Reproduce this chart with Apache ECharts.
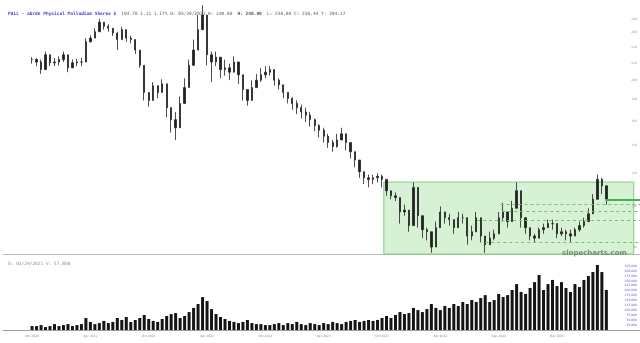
<!DOCTYPE html>
<html>
<head>
<meta charset="utf-8">
<script src="https://cdn.jsdelivr.net/npm/echarts@6/dist/echarts.min.js"></script>
<style>
html,body{margin:0;padding:0;background:#fff;}
#chart{width:640px;height:343px;}
</style>
</head>
<body>
<div id="chart"></div>
<script>
// ---------- data ----------
const startDate = '2020-10-05';   // first bar
const stepDays = 14;              // one bar every two weeks
const leadEmpty = 6;              // empty slots before the first bar
const trailEmpty = 7;             // empty slots after the last bar
const labelEvery = 13;            // x label every 13 bars (~6 months)

const closes = [224,221,212,230,220,221,224,230,214,220,
  221,221,247,252,261,275,269,266,259,250,
  264,252,250,236,217,187,179,194,187,196,
  172,161,154,176,192,217,236,264,286,230,
  221,227,212,214,209,221,206,190,179,192,
  200,206,209,212,200,195,187,181,176,172,
  168,165,161,156,152,147,142,139,144,149,
  142,135,129,121,117,116,117,118,116,109,
  106,105,97,98,90,111,95,88,87,80,
  89,97,94,93,89,94,94,85,87,94,
  85,81,84,86,94,97,92,99,109,94,
  89,85,84,88,89,91,91,86,87,86,
  85,88,90,92,96,104,116,112,104];

const highs = [227,226,224,234,226,226,228,234,221,224,
  225,226,252,256,266,280,275,272,266,261,
  268,259,255,250,228,202,187,198,192,201,
  179,170,168,183,202,224,250,286,302,256,
  234,234,219,224,219,228,216,200,187,200,
  207,214,216,216,209,202,195,187,182,179,
  175,172,168,162,157,154,149,144,149,154,
  149,140,135,126,121,119,119,120,119,113,
  109,108,104,101,94,114,101,90,89,84,
  92,100,97,96,92,97,96,89,90,97,
  89,84,87,88,97,102,94,103,114,100,
  91,88,86,89,91,93,93,88,89,88,
  88,89,92,94,99,107,119,117,106];

const lows = [219,216,207,221,216,216,217,221,209,214,
  216,216,234,246,255,266,264,261,255,236,
  255,247,245,231,214,179,173,187,181,190,
  163,150,144,168,183,202,221,243,264,217,
  198,216,202,205,200,209,196,179,174,183,
  192,198,202,205,194,190,181,176,170,166,
  162,159,155,151,146,142,138,135,138,144,
  136,130,124,117,113,111,113,114,111,106,
  104,103,91,95,87,101,89,84,83,77.5,
  85,93,91,90,86,92,91,81,83,91,
  82,77.5,82,83,90,92,89,96,101,89,
  86,83,82,86,86,89,88,84,85,83,
  82,85,87,89,94,100,109,107,101];

const volumes = [20000,20000,25000,15000,20000,30000,20000,25000,30000,20000,
  25000,30000,61000,41000,30000,35000,46000,35000,41000,61000,
  51000,66000,41000,51000,61000,76000,56000,46000,41000,56000,
  71000,81000,86000,61000,71000,91000,112000,132000,167000,147000,
  106000,81000,66000,56000,46000,41000,35000,41000,51000,35000,
  30000,30000,25000,25000,30000,35000,25000,35000,30000,41000,
  30000,25000,35000,30000,25000,35000,30000,41000,35000,30000,
  41000,46000,51000,41000,46000,51000,46000,51000,61000,71000,
  61000,76000,91000,81000,86000,112000,101000,91000,106000,132000,
  112000,101000,122000,112000,132000,122000,142000,132000,152000,142000,
  162000,177000,142000,152000,183000,167000,177000,203000,233000,193000,
  183000,213000,243000,279000,203000,233000,254000,223000,243000,213000,
  193000,233000,218000,254000,274000,294000,330000,294000,203000];

const priceTicks = [80,100,120,140,160,180,200,220,240,260,280];
const volumeTicks = [25000,50000,75000,100000,125000,150000,175000,200000,225000,250000,275000,300000,325000];
const priceMin = 77, priceMax = 297.3, volumeMax = 345000;

// green consolidation box and levels (bar index, price)
const boxStartBar = 78.4, boxEndBar = 134.1, boxTop = 114.3;
const dashedLevels = [101.3, 97.5, 92.8, 82.2];
const dashedStartBars = [104.4, 104.8, 99.2, 101.0];
const supportLevel = 104, supportStartBar = 127.8;

const headerName = 'PALL - abrdn Physical Palladium Shares E';
const headerInfo = '194.76 1.11 1.17% D: 03/29/2021 O: 240.89';
const headerHigh = 'H: 240.89';
const headerRest = 'L: 236.00 C: 236.44 T: 294.17';
const volumeInfo = 'D: 03/29/2021 V: 57,858';
const watermark = 'slopecharts.com';

// ---------- build ----------
const months = ['Jan','Feb','Mar','Apr','May','Jun','Jul','Aug','Sep','Oct','Nov','Dec'];
const total = leadEmpty + closes.length + trailEmpty;
const t0 = Date.parse(startDate + 'T00:00:00Z');
const categories = [];
for (let i = 0; i < total; i++) {
  const d = new Date(t0 + (i - leadEmpty) * stepDays * 86400000);
  categories.push(d.toISOString().slice(0, 10));
}
const pad = (arr) => Array(leadEmpty).fill('-').concat(arr, Array(trailEmpty).fill('-'));
const candles = closes.map((c, i) => {
  const o = i > 0 ? closes[i - 1] : c;
  return [o, c, Math.min(lows[i], o, c), Math.max(highs[i], o, c)];
});
const gridEnd = total - 0.5;
const A = (bar) => bar + leadEmpty;

const chart = echarts.init(document.getElementById('chart'), null, {renderer: 'canvas'});
const mono = 'DejaVu Sans Mono, monospace';

chart.setOption({
  animation: false,
  backgroundColor: '#ffffff',
  title: [
    {
      left: 3, top: 0,
      text: '{a|' + headerName + '} {b|' + headerInfo + '} {c|' + headerHigh + '} {b|' + headerRest + '}',
      textStyle: {
        rich: {
          a: {fontFamily: mono, fontSize: 4.5, color: '#3d3dd6'},
          b: {fontFamily: mono, fontSize: 4.5, color: '#8a8a8a'},
          c: {fontFamily: mono, fontSize: 4.5, color: '#555', fontWeight: 'bold'}
        }
      }
    },
    {
      left: 3, top: 256, text: volumeInfo,
      textStyle: {fontFamily: mono, fontSize: 4.5, color: '#8a8a8a', fontWeight: 'normal'}
    },
    {
      left: 557, top: 245, text: watermark,
      textStyle: {fontFamily: 'DejaVu Sans, sans-serif', fontSize: 7, fontWeight: 'bold', color: 'rgba(95,120,95,0.8)'}
    }
  ],
  grid: [
    {left: 2.9, right: 0, top: 8, height: 246},
    {left: 2.9, right: 0, top: 262, height: 68}
  ],
  xAxis: [
    {type: 'category', gridIndex: 0, data: categories, boundaryGap: true,
     axisLine: {lineStyle: {color: '#bdbdbd', width: 1}}, axisTick: {show: false}, axisLabel: {show: false}},
    {type: 'category', gridIndex: 1, data: categories, boundaryGap: true,
     axisLine: {lineStyle: {color: '#9e9e9e', width: 1}}, axisTick: {show: false},
     axisLabel: {
       fontSize: 3, color: '#8a8a8a', margin: 5, fontFamily: 'DejaVu Sans, sans-serif',
       interval: (idx) => { const k = idx - leadEmpty; return k >= 0 && k < closes.length && k % labelEvery === 0; },
       formatter: (v) => months[parseInt(v.slice(5, 7), 10) - 1] + ' ' + v.slice(0, 4)
     }},
    {type: 'value', gridIndex: 0, min: -0.5, max: gridEnd, show: false}
  ],
  yAxis: [
    {type: 'log', gridIndex: 0, position: 'right', min: priceMin, max: priceMax,
     axisLine: {show: false}, axisTick: {show: false}, splitLine: {show: false},
     axisLabel: {inside: true, margin: 3, fontSize: 3, color: '#9a9a9a', customValues: priceTicks,
                 fontFamily: 'DejaVu Sans, sans-serif'}},
    {type: 'value', gridIndex: 1, position: 'right', min: 0, max: volumeMax,
     axisLine: {show: false}, axisTick: {show: false}, splitLine: {show: false},
     axisLabel: {inside: true, margin: 3, fontSize: 3, color: '#5a5acc', customValues: volumeTicks,
                 fontFamily: 'DejaVu Sans, sans-serif',
                 formatter: (v) => v.toLocaleString('en-US')}}
  ],
  series: [
    {
      name: 'levels', type: 'line', xAxisIndex: 2, yAxisIndex: 0, data: [], z: 1, silent: true,
      markArea: {
        silent: true,
        itemStyle: {color: 'rgba(120,210,110,0.30)', borderColor: '#86c983', borderWidth: 1},
        data: [[{coord: [A(boxStartBar), boxTop]}, {coord: [A(boxEndBar), priceMin]}]]
      },
      markLine: {
        silent: true, symbol: ['none', 'none'], label: {show: false},
        data: dashedLevels.map((lv, j) => [
          {coord: [A(dashedStartBars[j]), lv], lineStyle: {color: '#74c274', width: 1, type: [3, 3]}},
          {coord: [gridEnd, lv]}
        ]).concat([[
          {coord: [A(supportStartBar), supportLevel], lineStyle: {color: '#4caf50', width: 2, type: 'solid'}},
          {coord: [gridEnd, supportLevel]}
        ]])
      }
    },
    {
      name: 'PALL', type: 'candlestick', xAxisIndex: 0, yAxisIndex: 0, z: 3,
      data: pad(candles), barWidth: 1.8,
      itemStyle: {color: '#222', color0: '#222', borderColor: '#222', borderColor0: '#222', borderWidth: 0.8}
    },
    {
      name: 'Volume', type: 'bar', xAxisIndex: 1, yAxisIndex: 1,
      data: pad(volumes), barWidth: 3,
      itemStyle: {color: '#141414'}
    }
  ]
});
</script>
</body>
</html>
